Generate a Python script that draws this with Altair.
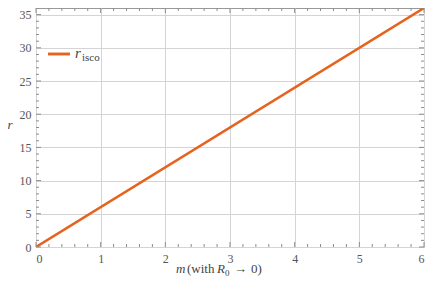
import altair as alt
import pandas as pd

# data
m_vals = [0, 6]
r_vals = [0, 36]
x_major = [0, 1, 2, 3, 4, 5, 6]
y_major = [0, 5, 10, 15, 20, 25, 30, 35]
x_minor = [0.2, 0.4, 0.6, 0.8, 1.2, 1.4, 1.6, 1.8, 2.2, 2.4, 2.6, 2.8,
           3.2, 3.4, 3.6, 3.8, 4.2, 4.4, 4.6, 4.8, 5.2, 5.4, 5.6, 5.8]
y_minor = [1, 2, 3, 4, 6, 7, 8, 9, 11, 12, 13, 14, 16, 17, 18, 19, 21, 22, 23, 24,
           26, 27, 28, 29, 31, 32, 33, 34, 36]

W, H = 388, 239
ORANGE = "#E5631E"
TICK = "#8c8c8c"
SERIF = "Liberation Serif"

xs = alt.Scale(domain=[0, 6], nice=False, zero=False)
ys = alt.Scale(domain=[0, 36], nice=False, zero=False)

XAX = alt.Axis(values=x_major, grid=True, gridColor="#d4d4d4", gridWidth=1,
               ticks=False, domain=False, labelFont=SERIF, labelFontSize=12,
               labelColor="#555555", labelPadding=6, title=None)
YAX = alt.Axis(values=y_major, grid=True, gridColor="#d4d4d4", gridWidth=1,
               ticks=False, domain=False, labelFont=SERIF, labelFontSize=12,
               labelColor="#555555", labelPadding=5, title=None)

df = pd.DataFrame({"m": m_vals, "r": r_vals})

line = alt.Chart(df).mark_line(color=ORANGE, strokeWidth=2.5, clip=True).encode(
    x=alt.X("m:Q", scale=xs, axis=XAX),
    y=alt.Y("r:Q", scale=ys, axis=YAX),
)


def xticks(vals, length):
    d = pd.DataFrame({"m": vals})
    base = alt.Chart(d).mark_rule(color=TICK, strokeWidth=1)
    bottom = base.encode(x=alt.X("m:Q", scale=xs, axis=XAX),
                         y=alt.value(H), y2=alt.value(H - length))
    top = base.encode(x=alt.X("m:Q", scale=xs, axis=XAX),
                      y=alt.value(0), y2=alt.value(length))
    return [bottom, top]


def yticks(vals, length):
    d = pd.DataFrame({"r": vals})
    base = alt.Chart(d).mark_rule(color=TICK, strokeWidth=1)
    left = base.encode(y=alt.Y("r:Q", scale=ys, axis=YAX),
                       x=alt.value(0), x2=alt.value(length))
    right = base.encode(y=alt.Y("r:Q", scale=ys, axis=YAX),
                        x=alt.value(W), x2=alt.value(W - length))
    return [left, right]


ticks = xticks(x_major, 5) + xticks(x_minor, 3) + yticks(y_major, 5) + yticks(y_minor, 3)

# legend
leg_line = alt.Chart(df).mark_rule(color=ORANGE, strokeWidth=2.5).encode(
    x=alt.value(12), x2=alt.value(34), y=alt.value(46))


def txt(s, x, y, size=13, style="normal", align="left", baseline="alphabetic", font=SERIF):
    return alt.Chart(pd.DataFrame({"t": [s]})).mark_text(
        font=font, fontSize=size, fontStyle=style, color="#444444",
        align=align, baseline=baseline).encode(
        text="t:N", x=alt.value(x), y=alt.value(y))


legend = [
    leg_line,
    txt("r", 39, 50, size=15, style="italic"),
    txt("isco", 46, 53, size=11),
]

TY = 265
xtitle = [
    txt("m", 140, TY, size=13, style="italic"),
    txt("(with", 151, TY, size=13),
    txt("R", 181, TY, size=13, style="italic"),
    txt("0", 189, TY + 3, size=9),
    txt("\u2192", 198, TY, size=13),
    txt("0)", 215, TY, size=13),
]

ytitle = [txt("r", -26, 117, size=13, style="italic", align="center", baseline="middle")]

chart = alt.layer(line, *ticks, *legend, *xtitle, *ytitle).properties(
    width=W, height=H,
    autosize=alt.AutoSizeParams(type="none"),
    padding={"left": 28, "top": 0, "right": 4, "bottom": 32},
).configure_view(stroke="#999999", strokeWidth=1)

chart.save("out.html", embed_options={"renderer": "svg", "actions": False})
